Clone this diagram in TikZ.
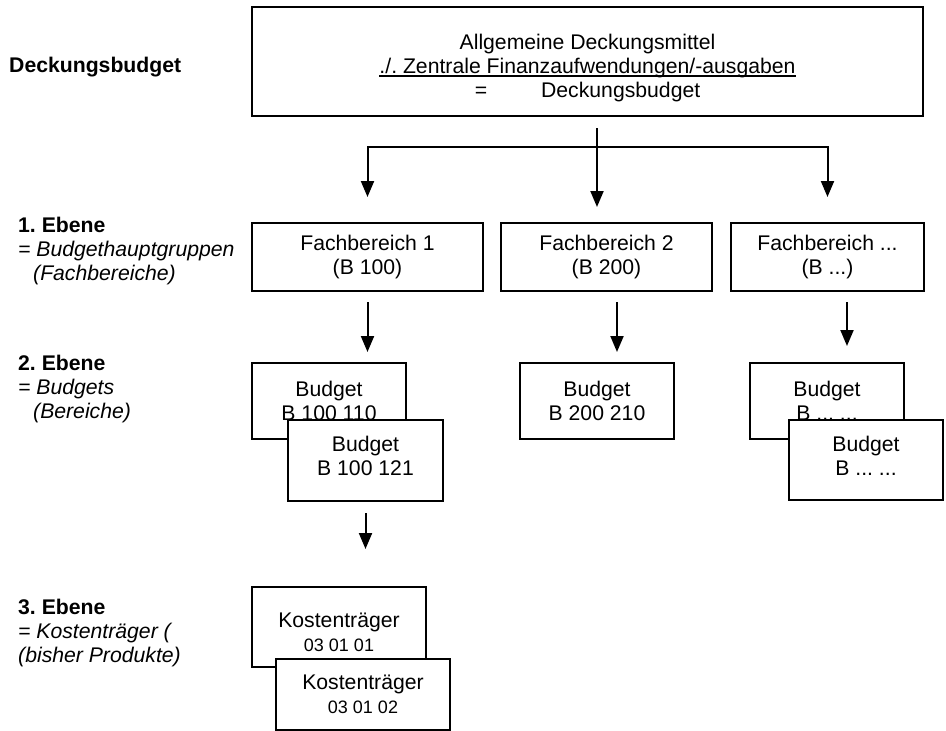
\documentclass[tikz,border=0pt]{standalone}
\usepackage{fontspec}
\setmainfont{Liberation Sans}
\usepackage{tikz}
\usetikzlibrary{arrows.meta,positioning}
\frenchspacing

\newsavebox{\zeilebox}
\newcommand{\zeileunter}[1]{\sbox{\zeilebox}{#1}\rlap{\rule[-2.6bp]{\wd\zeilebox}{1.4bp}}\usebox{\zeilebox}}

\begin{document}
\begin{tikzpicture}[
  every node/.style={font=\fontsize{21.2bp}{24bp}\selectfont,inner sep=0pt},
  kasten/.style={draw,line width=2bp,fill=white,align=center},
  ebene/.style={anchor=north west,align=left},
  >={Triangle[length=16bp,width=13bp]}
]
\useasboundingbox (0bp,0bp) rectangle (946bp,-731bp);

\node (lbl0) at (9bp,-72.6bp)[anchor=base west] {\bfseries Deckungsbudget};
\node (lbl1) at (18bp,-217.3bp)[ebene] {\textbf{1. Ebene}\\\textit{= Budgethauptgruppen}\\\hspace*{15bp}\textit{(Fachbereiche)}};
\node (lbl2) at (18bp,-355.3bp)[ebene] {\textbf{2. Ebene}\\\textit{= Budgets}\\\hspace*{15bp}\textit{(Bereiche)}};
\node (lbl3) at (18bp,-599.3bp)[ebene] {\textbf{3. Ebene}\\\textit{= Kostentr\"ager (}\\\textit{(bisher Produkte)}};

\node (deck) at (587.5bp,-61.5bp)[kasten,minimum width=671bp,minimum height=109bp] {\rule{0pt}{29.2bp}Allgemeine Deckungsmittel\\\zeileunter{./. Zentrale Finanzaufwendungen/-ausgaben}\\=\hspace{54bp}Deckungsbudget};

\node (fb1) at (367.5bp,-257bp)[kasten,minimum width=231bp,minimum height=68bp] {Fachbereich 1\\(B 100)};
\node (fb2) at (606.5bp,-257bp)[kasten,minimum width=211bp,minimum height=68bp] {Fachbereich 2\\(B 200)};
\node (fb3) at (827.5bp,-257bp)[kasten,minimum width=193bp,minimum height=68bp] {Fachbereich ...\\(B ...)};

\node (bud1a) at (329bp,-401bp)[kasten,minimum width=154bp,minimum height=76bp] {Budget\\B 100 110};
\node (bud1b) at (365.5bp,-460.5bp)[kasten,minimum width=155bp,minimum height=81bp] {Budget\\B 100 121\rule[-10bp]{0pt}{10bp}};
\node (bud2) at (597bp,-401bp)[kasten,minimum width=154bp,minimum height=76bp] {Budget\\B 200 210};
\node (bud3a) at (827bp,-401bp)[kasten,minimum width=154bp,minimum height=76bp] {Budget\\B ... ...};
\node (bud3b) at (866bp,-460bp)[kasten,minimum width=154bp,minimum height=80bp] {Budget\\B ... ...\rule[-8bp]{0pt}{8bp}};

\node (kt1) at (339bp,-627bp)[kasten,minimum width=174bp,minimum height=80bp] {\rule{0pt}{25.2bp}Kostentr\"ager\\{\fontsize{18bp}{24bp}\selectfont 03 01 01}};
\node (kt2) at (363bp,-694.5bp)[kasten,minimum width=174bp,minimum height=71bp] {Kostentr\"ager\\{\fontsize{18bp}{24bp}\selectfont 03 01 02}};

\coordinate (abzw) at (597bp,-128bp);
\coordinate (gabel) at (597bp,-147bp);
\coordinate (fb2aus) at ([xshift=10.5bp]fb2.south);
\coordinate (fb3aus) at ([xshift=19.5bp]fb3.south);

\draw [->,line width=2bp,shorten >=15bp] (abzw) -- (abzw |- fb2.north);
\draw [<->,line width=2bp,shorten <=25bp,shorten >=25bp] (fb1.north) -- (fb1.north |- gabel) -- (fb3.north |- gabel) -- (fb3.north);
\draw [->,line width=2bp,shorten <=10bp,shorten >=10bp] (fb1.south) -- (fb1.south |- bud1a.north);
\draw [->,line width=2bp,shorten <=10bp,shorten >=10bp] (fb2aus) -- (fb2aus |- bud2.north);
\draw [->,line width=2bp,shorten <=10bp,shorten >=16bp] (fb3aus) -- (fb3aus |- bud3a.north);
\draw [->,line width=2bp,shorten <=11bp,shorten >=37bp] (bud1b.south) -- (bud1b.south |- kt1.north);
\end{tikzpicture}
\end{document}
